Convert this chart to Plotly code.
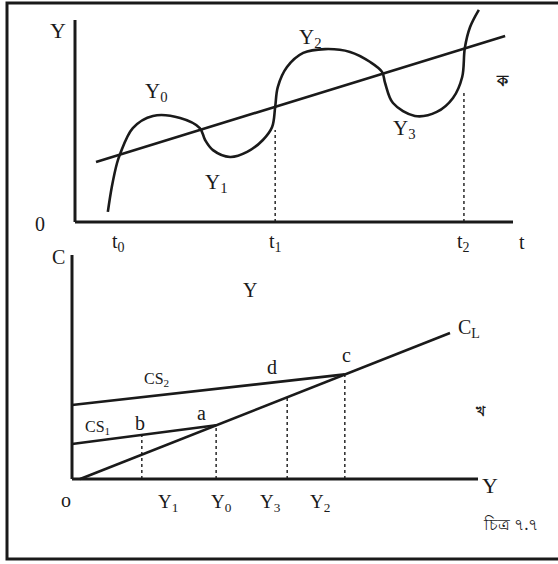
import plotly.graph_objects as go

# ---------- Panel ক (top): output Y over time t ----------
cycle_t = [0.75, 0.84, 0.96, 1.03, 1.32, 1.78, 2.40, 2.85, 2.97, 3.15, 3.54, 3.93, 4.29, 4.50,
           4.57, 4.63, 4.84, 5.21, 5.71, 6.28, 6.74, 7.01, 7.08, 7.26, 7.76, 8.26, 8.63, 8.84,
           8.90, 9.02, 9.22]
cycle_y = [0.50, 1.73, 2.92, 3.37, 4.65, 5.25, 5.15, 4.65, 4.06, 3.56, 3.22, 3.47, 4.06, 4.70,
           5.69, 6.68, 7.67, 8.37, 8.56, 8.42, 7.92, 7.43, 6.88, 5.89, 5.25, 5.45, 6.14, 7.18,
           8.61, 9.65, 10.50]
trend_t = [0.48, 9.82]
trend_y = [2.97, 9.21]
top_axis_len = 10.0
t_marks = [1.0, 4.57, 8.88]          # t0, t1, t2
t_drop_top = [None, 4.55, 6.40]      # height of dotted guide at t1, t2
t_labels = ["t<sub>0</sub>", "t<sub>1</sub>", "t<sub>2</sub>"]

# ---------- Panel খ (bottom): consumption C vs income Y ----------
cl_y = [0.20, 9.31]
cl_c = [0.00, 6.52]
cs1_y = [0.00, 3.55]
cs1_c = [1.56, 2.40]
cs2_y = [0.00, 6.72]
cs2_c = [3.30, 4.67]
bot_axis_len = 10.0
inc_marks = [1.72, 3.55, 5.30, 6.72]          # Y1, Y0, Y3, Y2
inc_drop_top = [1.95, 2.40, 3.65, 4.67]
inc_labels = ["Y<sub>1</sub>", "Y<sub>0</sub>", "Y<sub>3</sub>", "Y<sub>2</sub>"]
inc_label_pos = [2.36, 3.69, 4.88, 6.11]

W, H = 558, 564
INK = "#1a1a1a"
SERIF = "Liberation Serif, Times New Roman, serif"
BENG = "Noto Sans, sans-serif"

fig = go.Figure()

def line(x, y, xa, ya, width=2.6, dash=None, shape="linear"):
    fig.add_trace(go.Scatter(x=x, y=y, xaxis=xa, yaxis=ya, mode="lines",
                             line=dict(color=INK, width=width, dash=dash, shape=shape,
                                       smoothing=1.0 if shape == "spline" else None),
                             hoverinfo="skip", showlegend=False))

# top panel
line([0, 0], [0, top_axis_len], "x", "y", width=3)
line([0, top_axis_len], [0, 0], "x", "y", width=3)
line(trend_t, trend_y, "x", "y", width=2.6)
line(cycle_t, cycle_y, "x", "y", width=2.6, shape="spline")
for tm, top in zip(t_marks, t_drop_top):
    if top is not None:
        line([tm, tm], [0, top], "x", "y", width=1.4, dash="dot")

# bottom panel
line([0, 0], [0, bot_axis_len], "x2", "y2", width=3)
line([0, bot_axis_len], [0, 0], "x2", "y2", width=3)
line(cl_y, cl_c, "x2", "y2", width=2.6)
line(cs1_y, cs1_c, "x2", "y2", width=2.6)
line(cs2_y, cs2_c, "x2", "y2", width=2.6)
for m, top in zip(inc_marks, inc_drop_top):
    line([m, m], [0, top], "x2", "y2", width=1.4, dash="dot")

def lab(text, x, y, xr, yr, size=20, family=SERIF):
    fig.add_annotation(text=text, x=x, y=y, xref=xr, yref=yr, showarrow=False,
                       font=dict(family=family, size=size, color=INK),
                       xanchor="center", yanchor="middle")

# top labels
lab("Y", -0.39, 9.50, "x", "y", size=22)
lab("0", -0.80, -0.10, "x", "y", size=20)
for tm, tl in zip(t_marks, t_labels):
    lab(tl, tm, -1.0, "x", "y", size=20)
lab("t", 10.2, -0.99, "x", "y", size=20)
lab("Y<sub>0</sub>", 1.85, 6.44, "x", "y", size=21)
lab("Y<sub>1</sub>", 3.22, 1.93, "x", "y", size=21)
lab("Y<sub>2</sub>", 5.37, 9.11, "x", "y", size=21)
lab("Y<sub>3</sub>", 7.53, 4.60, "x", "y", size=21)
lab("<b>ক</b>", 9.75, 7.03, "x", "y", size=16, family=BENG)

# bottom labels
lab("C", -0.34, 9.91, "x2", "y2", size=20)
lab("o", -0.15, -0.94, "x2", "y2", size=20)
lab("Y", 10.3, -0.27, "x2", "y2", size=22)
lab("Y", 4.38, 8.44, "x2", "y2", size=20)
lab("C<sub>L</sub>", 9.78, 6.74, "x2", "y2", size=20)
lab("c", 6.77, 5.54, "x2", "y2", size=20)
lab("d", 4.93, 5.00, "x2", "y2", size=20)
lab("CS<sub>2</sub>", 2.09, 4.42, "x2", "y2", size=16)
lab("CS<sub>1</sub>", 0.62, 2.32, "x2", "y2", size=16)
lab("b", 1.67, 2.50, "x2", "y2", size=20)
lab("a", 3.20, 2.95, "x2", "y2", size=20)
lab("<b>খ</b>", 10.05, 3.08, "x2", "y2", size=14, family=BENG)
for p, tl in zip(inc_label_pos, inc_labels):
    lab(tl, p, -1.07, "x2", "y2", size=19)

# caption
lab("চিত্র ৭.৭", 10.79, -2.0, "x2", "y2", size=16, family=BENG)

# frame
fig.add_shape(type="rect", xref="paper", yref="paper",
              x0=7 / W, x1=565 / W, y0=1 - 559 / H, y1=1 - 3 / H,
              line=dict(color=INK, width=3), fillcolor="rgba(0,0,0,0)", layer="above")

hidden = dict(visible=False, showgrid=False, zeroline=False, fixedrange=True)
fig.update_layout(
    width=W, height=H, margin=dict(l=0, r=0, t=0, b=0, pad=0),
    font=dict(family=SERIF, size=20, color=INK),
    paper_bgcolor="white", plot_bgcolor="rgba(0,0,0,0)",
    xaxis=dict(domain=[0, 1], range=[-75 / 43.8, (W - 75) / 43.8], **hidden),
    yaxis=dict(domain=[0, 1], range=[(222 - H) / 20.2, 222 / 20.2], **hidden),
    xaxis2=dict(domain=[0, 1], range=[-72 / 40.6, (W - 72) / 40.6], anchor="y2", **hidden),
    yaxis2=dict(domain=[0, 1], range=[(479 - H) / 22.4, 479 / 22.4], anchor="x2", **hidden),
)

fig.write_html("out.html", config={"displayModeBar": False},
               post_script="document.body.style.margin='0';document.body.style.overflow='hidden';")
